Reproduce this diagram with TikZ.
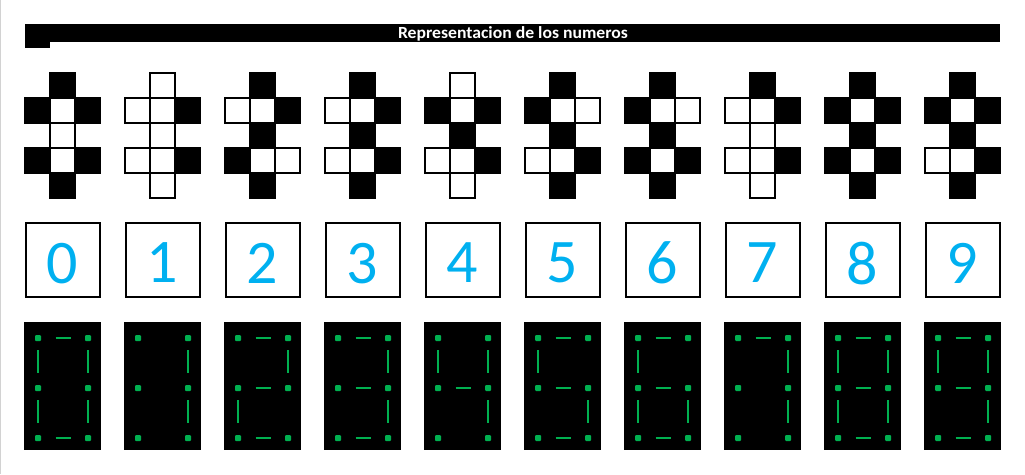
\documentclass[tikz,border=0pt]{standalone}
\usepackage{fontspec}
\setmainfont{Carlito}

\definecolor{digitblue}{HTML}{00B0F0}
\definecolor{ledgreen}{HTML}{00B050}

\tikzset{
  cellon/.style={fill=black, draw=black, line width=1.3pt},
  celloff/.style={fill=white, draw=black, line width=1.3pt},
  digitbox/.style={draw, line width=2pt, minimum size=74pt, inner sep=0pt,
    text=digitblue, font=\fontsize{62}{62}\selectfont},
  ledbox/.style={fill=black, minimum width=77pt, minimum height=128pt, inner sep=0pt},
  leddot/.style={fill=ledgreen, rounded corners=1pt},
  ledbar/.style={draw=ledgreen, line width=2.2pt},
}

\begin{document}
\begin{tikzpicture}[x=1pt,y=-1pt]
        \useasboundingbox (0,0) rectangle (1025,474);
        \draw[gray!35, line width=1pt] (0.5,0) -- (0.5,474);
        % Title bar
        \fill (25,24) rectangle (1000,42);
        \fill (25,42) rectangle (50,48);
        \node[text=white, font=\bfseries\fontsize{17}{17}\selectfont, xscale=1.04] (title) at (513,33.5) {Representacion de los numeros};

        % One column per digit: cell grid, digit box, led display
        \foreach \k/\on in {0/{1/0,2/1,2/3,1/4,0/3,0/1},
                            1/{2/1,2/3},
                            2/{1/0,2/1,1/2,0/3,1/4},
                            3/{1/0,2/1,1/2,2/3,1/4},
                            4/{0/1,2/1,1/2,2/3},
                            5/{1/0,0/1,1/2,2/3,1/4},
                            6/{1/0,0/1,1/2,0/3,2/3,1/4},
                            7/{1/0,2/1,2/3},
                            8/{1/0,0/1,2/1,1/2,0/3,2/3,1/4},
                            9/{1/0,0/1,2/1,1/2,2/3,1/4}}{
          \foreach \c/\r in {1/0,0/1,1/1,2/1,1/2,0/3,1/3,2/3,1/4}
            \draw[celloff] ({25+100*\k+25*\c},{73+25*\r}) rectangle ++(25,25);
          \foreach \c/\r in \on
            \draw[cellon] ({25+100*\k+25*\c},{73+25*\r}) rectangle ++(25,25);

          \node[digitbox] (box\k) at ({62.5+100*\k},260) {\raisebox{-3pt}[\height][0pt]{\k}};

          \node[ledbox] (led\k) at ({62.5+100*\k},385.5) {};
          \foreach \c in {0,2}
            \foreach \r in {0,2,4}
              \fill[leddot] ({35+100*\k+25*\c},{335+25*\r}) rectangle ++(6,6);
          \foreach \c/\r in \on {
            \ifnum\c=1
              \draw[ledbar] ({55.5+100*\k},{338+25*\r}) -- ++(15.5,0);
            \else
              \draw[ledbar] ({38+100*\k+25*\c},{325+25*\r}) -- ++(0,23);
            \fi
          }
        }
\end{tikzpicture}
\end{document}
